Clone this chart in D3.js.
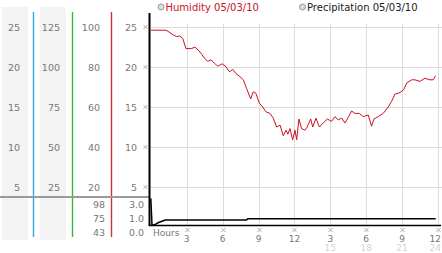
<!DOCTYPE html>
<html>
<head>
<meta charset="utf-8">
<script src="https://cdn.jsdelivr.net/npm/d3@7"></script>
<style>
body { margin: 0; background: #fff; }
text { font-family: "DejaVu Sans", sans-serif; }
</style>
</head>
<body>
<script>
const WIDTH = 442;
const HEIGHT = 253;

// humidity readings, hour of day -> value
var humHours = [0, 1.27, 1.6, 1.88, 2.16, 2.38, 2.66, 2.94, 3.41, 3.69, 3.97, 4.25, 4.48, 4.76, 5.04, 5.3, 5.6, 5.96, 6.24, 6.57, 6.85, 7.1, 7.45, 7.73,
    8.01, 8.35, 8.56, 8.79, 9.06, 9.35, 9.62, 9.96, 10.23, 10.52, 10.8, 11.07, 11.3, 11.45, 11.63, 11.85, 12.05, 12.19, 12.38, 12.6, 12.88, 13.07,
    13.36, 13.53, 13.8, 14.08, 14.41, 14.75, 15.11, 15.39, 15.66, 15.95, 16.22, 16.5, 16.78, 17.06, 17.42, 17.75, 18.17, 18.45, 18.65, 19.0,
    19.42, 19.84, 20.12, 20.4, 20.82, 21.15, 21.38, 21.8, 22.07, 22.49, 22.9, 23.32, 23.6, 23.8];
var humidity = [24.6, 24.6, 24.3, 24.0, 23.8, 23.9, 23.6, 22.3, 22.3, 22.5, 22.1, 21.6, 21.1, 20.7, 20.9, 20.5, 20.1, 20.4, 20.1, 19.4, 19.7, 19.2, 18.8, 18.4,
    17.3, 16.0, 16.9, 16.7, 15.5, 15.0, 14.4, 14.2, 13.6, 12.5, 12.75, 11.4, 12.1, 11.6, 12.3, 10.9, 12.1, 10.9, 13.5, 12.3, 12.1, 12.5,
    13.5, 12.5, 13.6, 12.5, 13.0, 13.5, 13.2, 13.8, 13.4, 13.6, 13.0, 13.7, 14.5, 14.2, 14.2, 13.8, 14.0, 12.6, 13.5, 13.8,
    14.2, 15.0, 15.7, 16.6, 16.8, 17.2, 18.0, 18.4, 18.4, 18.2, 18.6, 18.4, 18.4, 18.9];

// precipitation readings
var precHours = [0, 0.1, 0.25, 0.45, 0.65, 1.05, 1.2, 8.0, 8.1, 23.8];
var precip = [3.8, 0, 0, 0.15, 0.35, 0.6, 0.7, 0.7, 0.9, 0.9];

var yTicks = [5, 10, 15, 20, 25];
var col1Labels = ['5', '10', '15', '20', '25'];
var col2Labels = ['25', '50', '75', '100', '125'];
var col3Labels = ['20', '40', '60', '80', '100'];
var col4Labels = ['5', '10', '15', '20', '25'];
var lowLabelsA = ['98', '75', '43'];
var lowLabelsB = ['3.0', '1.0', '0.0'];
var xTicks = [3, 6, 9, 12, 15, 18, 21, 24];
var xLabels = ['3', '6', '9', '12', '3', '6', '9', '12'];
var xLabels2 = ['', '', '', '', '15', '18', '21', '24'];

var svg = d3.select('body')
    .append('svg')
    .attr('width', WIDTH)
    .attr('height', HEIGHT);

var x = d3.scaleLinear().domain([0, 24]).range([150.8, 438]);
var y = d3.scaleLinear().domain([0, 25]).range([227, 27]);
var yP = d3.scaleLinear().domain([0, 3]).range([225, 204]);
var yLow = d3.scalePoint().domain(d3.range(3)).range([204, 232]);

// left label columns
svg.append('rect').attr('x', 2).attr('y', 7).attr('width', 26).attr('height', 233).attr('fill', '#f3f3f3');
svg.append('rect').attr('x', 40).attr('y', 7).attr('width', 26).attr('height', 233).attr('fill', '#f3f3f3');

var seps = [[33.5, '#33aadd'], [72.5, '#33b833'], [111.5, '#cc3333']];
seps.forEach(function(s) {
    svg.append('line')
        .attr('x1', s[0]).attr('x2', s[0])
        .attr('y1', 12).attr('y2', 237)
        .attr('stroke', s[1]).attr('stroke-width', 1.4);
});

// grid
var grid = svg.append('g').attr('stroke', '#dcdcdc').attr('stroke-width', 1);
grid.selectAll('.h').data(yTicks).enter().append('line')
    .attr('x1', 150).attr('x2', WIDTH)
    .attr('y1', function(d) { return Math.round(y(d)) + 0.5; })
    .attr('y2', function(d) { return Math.round(y(d)) + 0.5; });
grid.selectAll('.v').data(xTicks).enter().append('line')
    .attr('x1', function(d) { return Math.round(x(d)) + 0.5; })
    .attr('x2', function(d) { return Math.round(x(d)) + 0.5; })
    .attr('y1', 24).attr('y2', 225);

// gray separator between panels
svg.append('line').attr('x1', 0).attr('x2', 149).attr('y1', 197).attr('y2', 197)
    .attr('stroke', '#9a9a9a').attr('stroke-width', 2);

function labelCol(labels, xPos) {
    svg.append('g').selectAll('text').data(labels).enter().append('text')
        .attr('x', xPos)
        .attr('y', function(d, i) { return y(yTicks[i]) + 3.5; })
        .attr('text-anchor', 'end')
        .attr('font-size', '9.5px')
        .attr('fill', '#777')
        .text(function(d) { return d; });
}
labelCol(col1Labels, 20);
labelCol(col2Labels, 60);
labelCol(col3Labels, 100);
labelCol(col4Labels, 137);

function lowCol(labels, xPos) {
    svg.append('g').selectAll('text').data(labels).enter().append('text')
        .attr('x', xPos)
        .attr('y', function(d, i) { return yLow(i) + 3.5; })
        .attr('text-anchor', 'end')
        .attr('font-size', '9.5px')
        .attr('fill', '#777')
        .text(function(d) { return d; });
}
lowCol(lowLabelsA, 105);
lowCol(lowLabelsB, 144);

// small tick marks
function tickMark(g, cx, cy) {
    g.append('path')
        .attr('d', 'M' + (cx - 2) + ',' + (cy - 2) + 'l4,4M' + (cx + 2) + ',' + (cy - 2) + 'l-4,4')
        .attr('stroke', '#aaa').attr('stroke-width', 1).attr('fill', 'none');
}
var marks = svg.append('g');
yTicks.forEach(function(t) { tickMark(marks, 145.5, y(t)); });
xTicks.forEach(function(t) { tickMark(marks, Math.round(x(t)) + 0.5, 230); });

// x labels
svg.append('g').selectAll('text').data(xLabels).enter().append('text')
    .attr('x', function(d, i) { return i === xLabels.length - 1 ? 441 : x(xTicks[i]); })
    .attr('y', 241.5)
    .attr('text-anchor', function(d, i) { return i === xLabels.length - 1 ? 'end' : 'middle'; })
    .attr('font-size', '9px')
    .attr('fill', '#777')
    .text(function(d) { return d; });
svg.append('g').selectAll('text').data(xLabels2).enter().append('text')
    .attr('x', function(d, i) { return i === xLabels2.length - 1 ? 441 : x(xTicks[i]); })
    .attr('y', 251)
    .attr('text-anchor', function(d, i) { return i === xLabels2.length - 1 ? 'end' : 'middle'; })
    .attr('font-size', '9px')
    .attr('fill', '#d4d4d4')
    .text(function(d) { return d; });
svg.append('text').attr('x', 153).attr('y', 236)
    .attr('font-size', '9px').attr('fill', '#777').text('Hours');

// clip to plot areas
svg.append('clipPath').attr('id', 'clipTop')
    .append('rect').attr('x', 150).attr('y', 13).attr('width', 292).attr('height', 184);
svg.append('clipPath').attr('id', 'clipLow')
    .append('rect').attr('x', 150).attr('y', 197).attr('width', 292).attr('height', 30);

var humLine = d3.line()
    .x(function(d, i) { return x(humHours[i]); })
    .y(function(d) { return y(d); });
svg.append('path')
    .datum(humidity)
    .attr('clip-path', 'url(#clipTop)')
    .attr('d', humLine)
    .attr('fill', 'none')
    .attr('stroke', '#cc1020')
    .attr('stroke-width', 1);

var precLine = d3.line()
    .x(function(d, i) { return x(precHours[i]); })
    .y(function(d) { return yP(d); });
svg.append('path')
    .datum(precip)
    .attr('clip-path', 'url(#clipLow)')
    .attr('d', precLine)
    .attr('fill', 'none')
    .attr('stroke', '#000')
    .attr('stroke-width', 1.5);

// axes lines
svg.append('line').attr('x1', 149.5).attr('x2', 149.5).attr('y1', 13).attr('y2', 226)
    .attr('stroke', '#000').attr('stroke-width', 2);
svg.append('line').attr('x1', 149).attr('x2', 441).attr('y1', 225.5).attr('y2', 225.5)
    .attr('stroke', '#000').attr('stroke-width', 1.5);

// legend
var legend = [['Humidity 05/03/10', '#cc1020', 161], ['Precipitation 05/03/10', '#222', 302.5]];
legend.forEach(function(l) {
    svg.append('circle').attr('cx', l[2]).attr('cy', 7).attr('r', 3)
        .attr('fill', '#ddd').attr('stroke', '#999').attr('stroke-width', 1);
    svg.append('text').attr('x', l[2] + 4.5).attr('y', 10.5)
        .attr('font-size', '10px').attr('fill', l[1]).text(l[0]);
});
</script>
</body>
</html>
